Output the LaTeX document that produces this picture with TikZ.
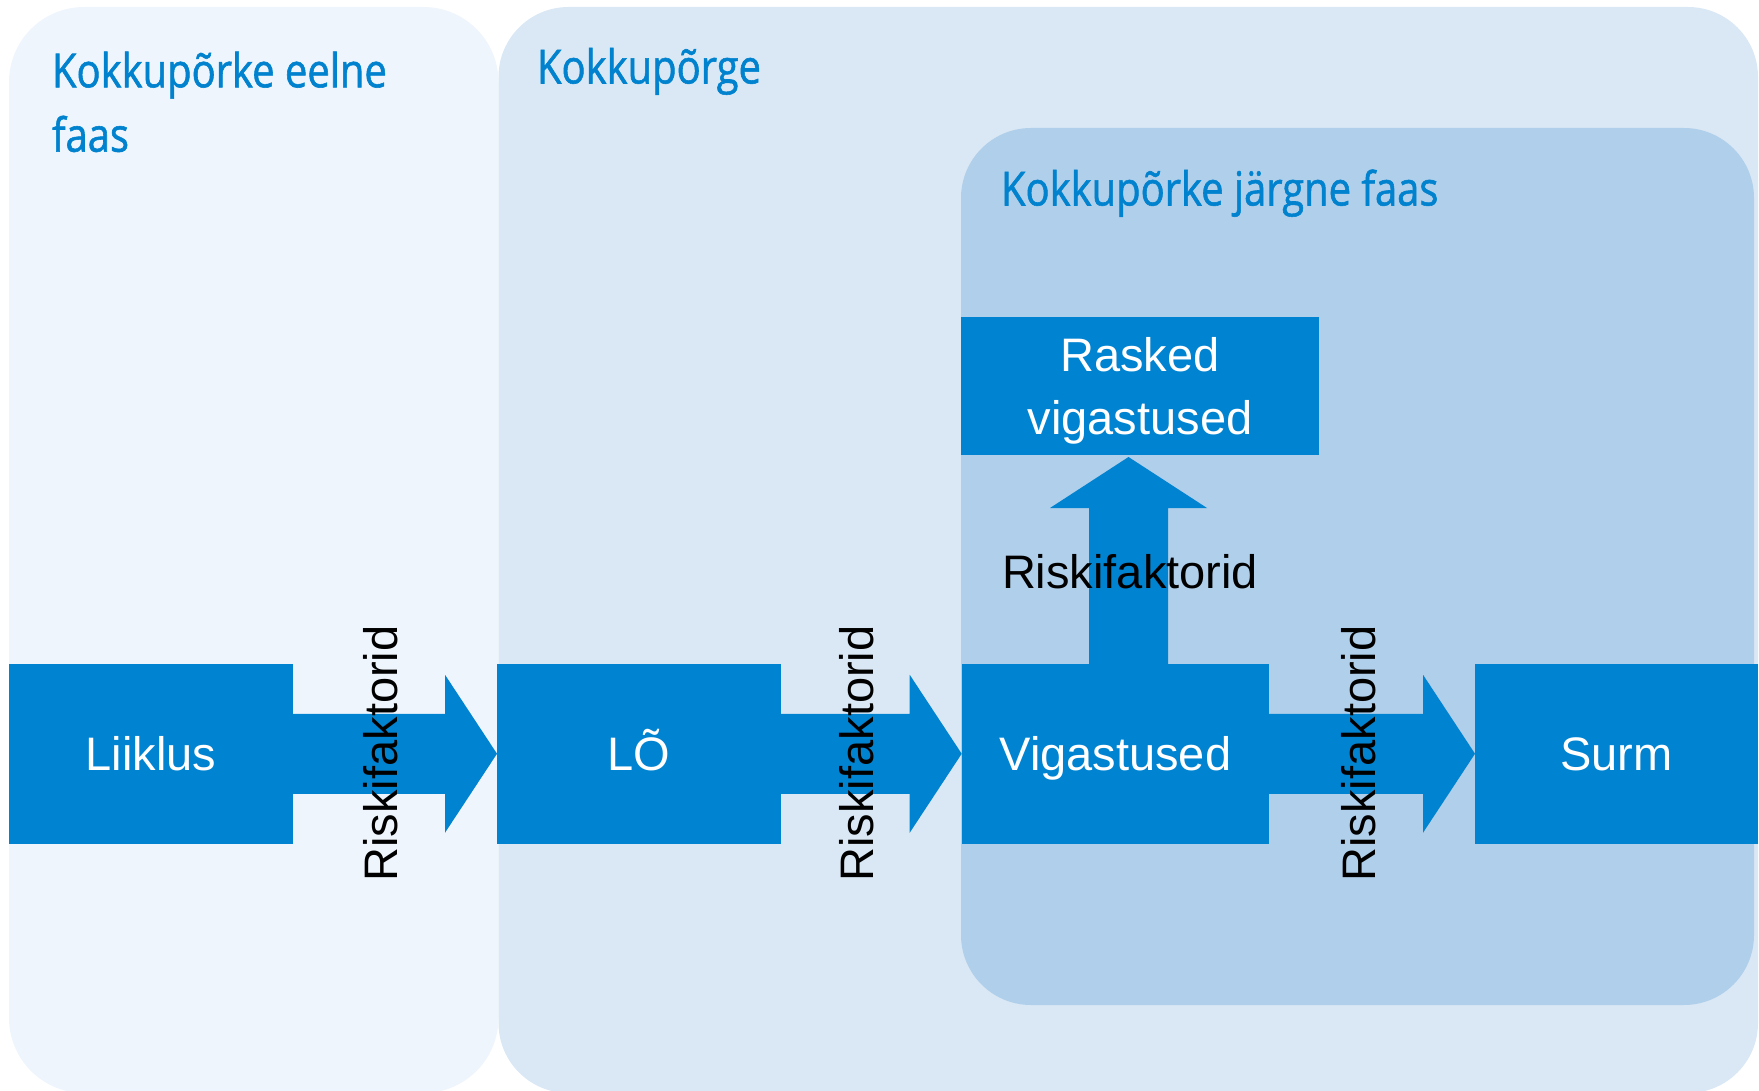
\documentclass[tikz,border=0pt]{standalone}
\usepackage{fontspec}
\setmainfont{Liberation Sans}
\newfontfamily\condfont[FakeStretch=0.85,FakeBold=1.2]{Open Sans}
\usetikzlibrary{calc}
\definecolor{blu}{RGB}{0,131,209}
\definecolor{titleblu}{RGB}{0,130,206}
\definecolor{pA}{RGB}{239,245,252}
\definecolor{pB}{RGB}{218,232,245}
\definecolor{pC}{RGB}{176,207,234}
\newcommand\flowarrow[2]{%
  \fill[blu] ($(#1.east)+(0,-40)$) -- ($(#2.west)+(-52,-40)$) -- ($(#2.west)+(-52,-79)$)
    -- (#2.west) -- ($(#2.west)+(-52,79)$) -- ($(#2.west)+(-52,40)$) -- ($(#1.east)+(0,40)$) -- cycle;}
\begin{document}
\begin{tikzpicture}[x=1pt,y=-1pt,
  panel/.style={inner sep=0pt, outer sep=0pt, anchor=north west},
  ptitle/.style={inner sep=0pt, outer sep=0pt, text=titleblu,
    font={\condfont\fontsize{47}{64.4}\selectfont}},
  stepbox/.style={fill=blu, text=white, inner sep=0pt, outer sep=0pt,
    minimum height=179.5pt, text height=34pt, text depth=0pt,
    font={\fontsize{47}{56}\selectfont}},
  risk/.style={inner sep=0pt, outer sep=0pt, text=black,
    font={\fontsize{47}{56}\selectfont}}
]
\clip (0,0) rectangle (1759,1091);
% panels
\node[panel, fill=pA, rounded corners=75pt, minimum width=489.5pt, minimum height=1086pt] (pre) at (9,7) {};
\node[panel, fill=pB, rounded corners=70pt, minimum width=1259.5pt, minimum height=1086pt] (crash) at (498.5,7) {};
\node[panel, fill=pC, rounded corners=70pt, minimum width=793pt, minimum height=877pt] (post) at (961,128) {};
% titles
\node[ptitle, align=left, anchor=north west] (tpre) at (52,47.3) {\rule{0pt}{40pt}Kokkupõrke eelne\\faas};
\node[ptitle, anchor=base west] (tcrash) at (537,83.5) {Kokkupõrge};
\node[ptitle, anchor=base west] (tpost) at (1001,205.5) {Kokkupõrke järgne faas};
% boxes
\node[stepbox, minimum width=284pt] (liik) at (151,753.75) {Liiklus};
\node[stepbox, minimum width=284pt] (lo) at (639,753.75) {LÕ};
\node[stepbox, minimum width=307.3pt] (vig) at (1115.35,753.75) {Vigastused};
\node[stepbox, minimum width=283pt] (surm) at (1616.5,753.75) {Surm};
\node[fill=blu, inner sep=0pt, outer sep=0pt, minimum width=358pt, minimum height=138pt] (rasked) at (1140,386) {};
\node[inner sep=0pt, text=white, align=center, font={\fontsize{47}{63}\selectfont}, anchor=north]
  (raskedtxt) at ($(rasked.north)+(0,-2)$) {\rule{0pt}{56pt}Rasked\\vigastused};
% arrows
\flowarrow{liik}{lo}
\flowarrow{lo}{vig}
\flowarrow{vig}{surm}
\coordinate (ubase) at ($(vig.north)+(13.2,0)$);
\coordinate (utip) at ($(rasked.south)+(-11.5,2)$);
\fill[blu] ($(ubase)+(-39.5,0)$) -- ($(utip)+(-39.5,51)$) -- ($(utip)+(-78.5,51)$) -- (utip)
  -- ($(utip)+(78.5,51)$) -- ($(utip)+(39.5,51)$) -- ($(ubase)+(39.5,0)$) -- cycle;
% labels
\node[risk, rotate=90] (r1) at (381,753.5) {Riskifaktorid};
\node[risk, rotate=90] (r2) at (857,753.5) {Riskifaktorid};
\node[risk, rotate=90] (r3) at (1358.5,753.5) {Riskifaktorid};
\node[risk] (r4) at (1130,571.5) {Riskifaktorid};
\end{tikzpicture}
\end{document}
